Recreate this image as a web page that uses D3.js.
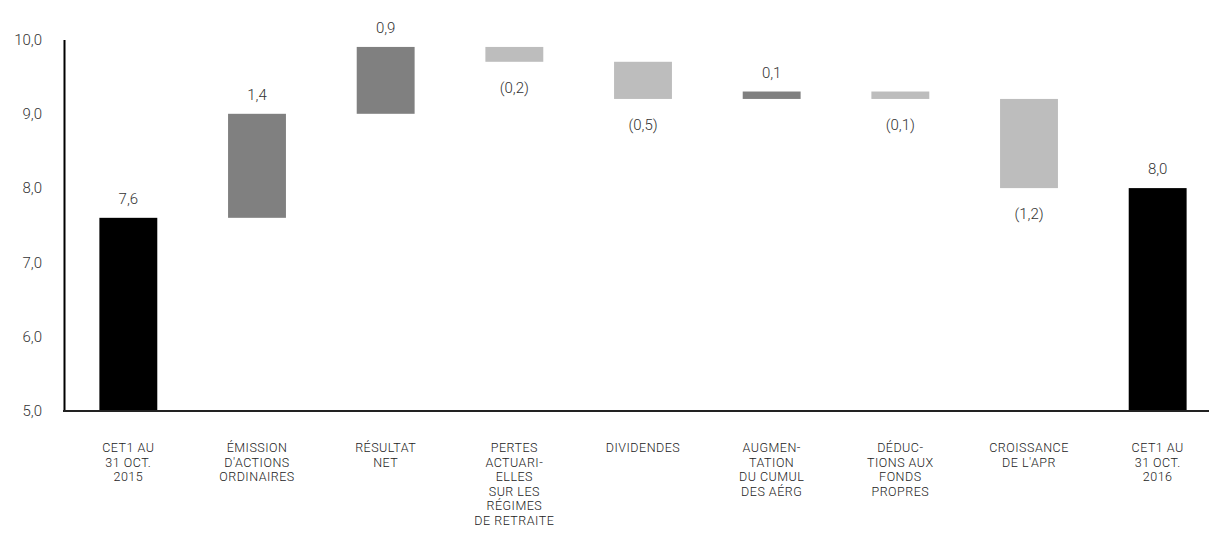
<!DOCTYPE html>
<html>
<head>
<meta charset="utf-8">
<script src="https://cdn.jsdelivr.net/npm/d3@7"></script>
<style>
  body { margin: 0; background: #fff; }
  svg text { font-family: Roboto, "DejaVu Sans", sans-serif; font-weight: 300; }
</style>
</head>
<body>
<svg></svg>
<script>
// categories, one entry per bar, lines split by "|"
const categories = [
  'CET1 AU|31 OCT.|2015',
  'ÉMISSION|D\'ACTIONS|ORDINAIRES',
  'RÉSULTAT|NET',
  'PERTES|ACTUARI-|ELLES|SUR LES|RÉGIMES|DE RETRAITE',
  'DIVIDENDES',
  'AUGMEN-|TATION|DU CUMUL|DES AÉRG',
  'DÉDUC-|TIONS AUX|FONDS|PROPRES',
  'CROISSANCE|DE L\'APR',
  'CET1 AU|31 OCT.|2016'
];
// 'total' bars start from the axis, 'delta' bars float
const kinds = ['total', 'delta', 'delta', 'delta', 'delta', 'delta', 'delta', 'delta', 'total'];
const values = [7.6, 1.4, 0.9, -0.2, -0.5, 0.1, -0.1, -1.2, 8.0];
const yTicks = [5, 6, 7, 8, 9, 10];

var svgWidth = 1209;
var svgHeight = 542;
var yMin = 5;

var fr = d3.formatLocale({decimal: ',', thousands: ' ', grouping: [3], currency: ['', ' €']});
var fmt = fr.format('.1f');

// running totals -> bar start/end
var running = 0;
var bars = values.map((v, i) => {
  let b;
  if (kinds[i] === 'total') {
    b = {y0: yMin, y1: v, v: v};
    running = v;
  } else {
    b = {y0: running, y1: running + v, v: v};
    running = running + v;
  }
  b.kind = kinds[i];
  b.label = categories[i];
  return b;
});

var svg = d3.select('svg')
  .attr('width', svgWidth)
  .attr('height', svgHeight);

var xScale = d3.scaleBand()
  .domain(d3.range(categories.length))
  .range([64, 1222])
  .paddingInner(0.55)
  .paddingOuter(0.275);

var yScale = d3.scaleLinear()
  .domain([5, 10])
  .range([411, 39.5]);

function barColor(d) {
  if (d.kind === 'total') return '#000';
  return d.v >= 0 ? '#808080' : '#bdbdbd';
}

svg.selectAll('rect.bar')
  .data(bars)
  .enter()
  .append('rect')
  .attr('class', 'bar')
  .attr('x', (d, i) => xScale(i))
  .attr('width', xScale.bandwidth())
  .attr('y', d => yScale(Math.max(d.y0, d.y1)))
  .attr('height', d => Math.abs(yScale(d.y0) - yScale(d.y1)))
  .attr('fill', barColor);

// value labels
svg.selectAll('text.val')
  .data(bars)
  .enter()
  .append('text')
  .attr('class', 'val')
  .attr('x', (d, i) => xScale(i) + xScale.bandwidth() / 2)
  .attr('y', d => d.v >= 0
    ? yScale(Math.max(d.y0, d.y1)) - 19
    : yScale(Math.min(d.y0, d.y1)) + 26)
  .attr('dy', '0.35em')
  .attr('text-anchor', 'middle')
  .attr('font-size', 15)
  .attr('fill', '#333')
  .text(d => d.v >= 0 ? fmt(d.v) : '(' + fmt(-d.v) + ')');

// y axis
var yAxis = d3.axisLeft(yScale)
  .tickValues(yTicks)
  .tickSize(0)
  .tickPadding(22)
  .tickFormat(fmt);

var gy = svg.append('g')
  .attr('transform', 'translate(64,0)')
  .call(yAxis);
gy.select('.domain').attr('stroke', '#000').attr('stroke-width', 2);
gy.selectAll('text')
  .attr('font-size', 15)
  .attr('fill', '#333')
  .style('font-family', 'Roboto, sans-serif');

// baseline
svg.append('line')
  .attr('x1', 63)
  .attr('x2', svgWidth)
  .attr('y1', yScale(yMin))
  .attr('y2', yScale(yMin))
  .attr('stroke', '#222')
  .attr('stroke-width', 2);

// category labels
var cat = svg.selectAll('text.cat')
  .data(bars)
  .enter()
  .append('text')
  .attr('class', 'cat')
  .attr('text-anchor', 'middle')
  .attr('font-size', 12.5)
  .attr('letter-spacing', 0.5)
  .attr('fill', '#222')
  .attr('transform', (d, i) => 'translate(' + (xScale(i) + xScale.bandwidth() / 2) + ',452)');

cat.selectAll('tspan')
  .data(d => d.label.split('|'))
  .enter()
  .append('tspan')
  .attr('x', 0)
  .attr('y', (d, i) => i * 14.5)
  .text(d => d);
</script>
</body>
</html>
